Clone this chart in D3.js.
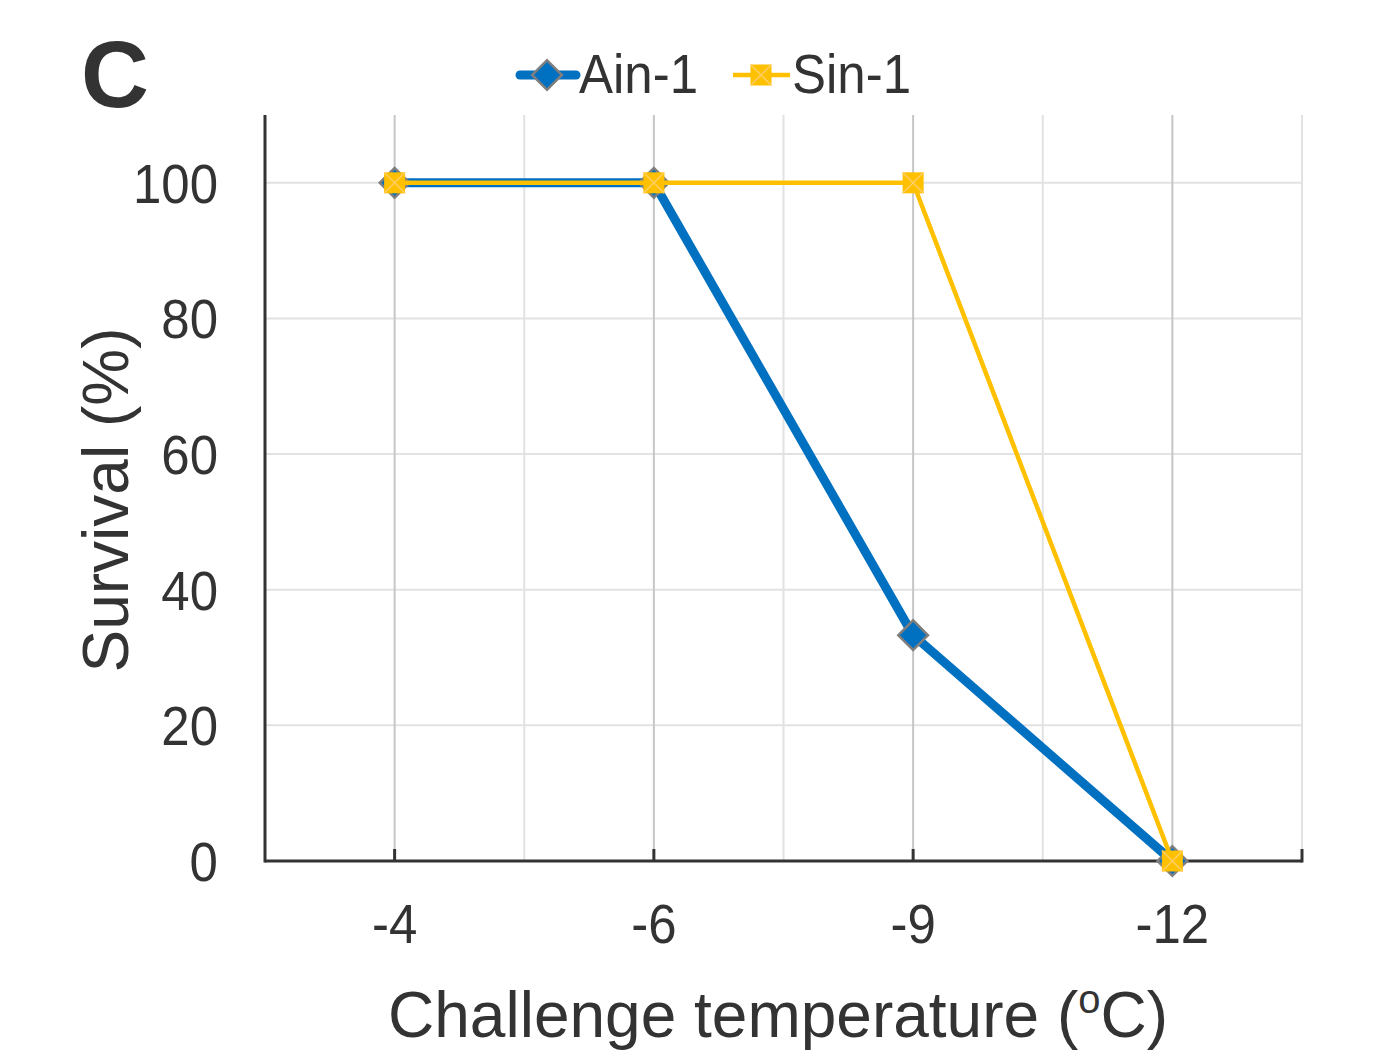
<!DOCTYPE html>
<html>
<head>
<meta charset="utf-8">
<script src="https://cdn.jsdelivr.net/npm/d3@7"></script>
<style>
  body { margin: 0; background: #fff; }
  text { font-family: "Liberation Sans", Arial, sans-serif; fill: #333; }
</style>
</head>
<body>
<script>
var categories = ["-4", "-6", "-9", "-12"];
var ain1 = [100, 100, 33.3, 0];
var sin1 = [100, 100, 100, 0];
var yTicks = [0, 20, 40, 60, 80, 100];

var width   = 1382,
    height  = 1051,
    mLeft   = 265,
    mRight  = 1302,
    mTop    = 115,
    mBottom = 861;

const svg = d3.select("body")
    .append("svg")
    .attr("width", width)
    .attr("height", height);

var x = d3.scaleBand().domain(categories).range([mLeft, mRight]);
var y = d3.scaleLinear().domain([0, 110]).range([mBottom, mTop]);
var cx = d => x(d) + x.bandwidth() / 2;

// text is a bit taller than wide in the original
var stretch = (px, py) => "translate(" + px + "," + py + ") scale(1,1.1)";

// grid
var grid = svg.append("g");
grid.selectAll(".hg")
    .data(yTicks.slice(1))
    .join("line")
    .attr("x1", mLeft).attr("x2", mRight)
    .attr("y1", d => y(d)).attr("y2", d => y(d))
    .style("stroke", "#e2e2e2").style("stroke-width", 2);
grid.selectAll(".vb")
    .data(categories)
    .join("line")
    .attr("x1", d => x(d) + x.bandwidth()).attr("x2", d => x(d) + x.bandwidth())
    .attr("y1", mTop).attr("y2", mBottom)
    .style("stroke", "#e2e2e2").style("stroke-width", 2);
grid.selectAll(".vc")
    .data(categories)
    .join("line")
    .attr("x1", cx).attr("x2", cx)
    .attr("y1", mTop).attr("y2", mBottom)
    .style("stroke", "#c6c6c6").style("stroke-width", 2);

// axes
var axes = svg.append("g").style("stroke", "#333").style("stroke-width", 3);
axes.append("line")
    .attr("x1", mLeft).attr("x2", mLeft)
    .attr("y1", mTop).attr("y2", mBottom + 1.5);
axes.append("line")
    .attr("x1", mLeft).attr("x2", mRight)
    .attr("y1", mBottom).attr("y2", mBottom);
axes.selectAll(".xt")
    .data(categories)
    .join("line")
    .attr("x1", cx).attr("x2", cx)
    .attr("y1", mBottom).attr("y2", mBottom - 12);
axes.append("line")
    .attr("x1", mRight).attr("x2", mRight)
    .attr("y1", mBottom + 1.5).attr("y2", mBottom - 12);

// tick labels
svg.append("g").selectAll("text")
    .data(yTicks)
    .join("text")
    .attr("transform", d => stretch(218, y(d) + 20))
    .attr("text-anchor", "end")
    .style("font-size", "51px")
    .text(d => d);

svg.append("g").selectAll("text")
    .data(categories)
    .join("text")
    .attr("transform", d => stretch(cx(d), 943))
    .attr("text-anchor", "middle")
    .style("font-size", "51px")
    .text(d => d);

// axis titles
var xt = svg.append("text")
    .attr("x", 778)
    .attr("y", 1037)
    .attr("text-anchor", "middle")
    .style("font-size", "64px");
xt.append("tspan").text("Challenge temperature (");
xt.append("tspan").attr("dy", -24).style("font-size", "40px").text("o");
xt.append("tspan").attr("dy", 24).text("C)");

svg.append("text")
    .attr("transform", "translate(128,500) rotate(-90)")
    .attr("text-anchor", "middle")
    .style("font-size", "64px")
    .text("Survival (%)");

svg.append("text")
    .attr("x", 81)
    .attr("y", 107)
    .style("font-size", "94px")
    .style("font-weight", "bold")
    .text("C");

// series
var lineGen = d3.line().x((d, i) => cx(categories[i])).y(d => y(d));

svg.append("path")
    .datum(ain1)
    .attr("d", lineGen)
    .style("fill", "none")
    .style("stroke", "#0070c0")
    .style("stroke-width", 9)
    .style("stroke-linejoin", "round");

function diamond(g, px, py, s) {
    g.append("rect")
        .attr("x", -s / 2).attr("y", -s / 2)
        .attr("width", s).attr("height", s)
        .attr("transform", "translate(" + px + "," + py + ") rotate(45)")
        .style("fill", "#0070c0")
        .style("stroke", "#7f7f7f")
        .style("stroke-width", 2.5);
}

function square(g, px, py, s) {
    g.append("rect")
        .attr("x", px - s / 2).attr("y", py - s / 2)
        .attr("width", s).attr("height", s)
        .style("fill", "#ffc000");
    g.append("path")
        .attr("d", "M" + (px - s / 2) + "," + (py - s / 2) + "L" + (px + s / 2) + "," + (py + s / 2) +
                   "M" + (px + s / 2) + "," + (py - s / 2) + "L" + (px - s / 2) + "," + (py + s / 2))
        .style("stroke", "#ffcf66")
        .style("stroke-width", 1.5);
}

var ainMarks = svg.append("g");
ain1.forEach((v, i) => diamond(ainMarks, cx(categories[i]), y(v), 21));

svg.append("path")
    .datum(sin1)
    .attr("d", lineGen)
    .style("fill", "none")
    .style("stroke", "#ffc000")
    .style("stroke-width", 4.5)
    .style("stroke-linejoin", "round");

var sinMarks = svg.append("g");
sin1.forEach((v, i) => square(sinMarks, cx(categories[i]), y(v), 21));

// legend
var leg = svg.append("g");
leg.append("line")
    .attr("x1", 520).attr("x2", 576).attr("y1", 75).attr("y2", 75)
    .style("stroke", "#0070c0").style("stroke-width", 9).style("stroke-linecap", "round");
diamond(leg, 547, 75, 21);
leg.append("text")
    .attr("transform", stretch(579, 93))
    .style("font-size", "51px")
    .text("Ain-1");
leg.append("line")
    .attr("x1", 733).attr("x2", 790).attr("y1", 75).attr("y2", 75)
    .style("stroke", "#ffc000").style("stroke-width", 4.5);
square(leg, 761, 75, 21);
leg.append("text")
    .attr("transform", stretch(792, 93))
    .style("font-size", "51px")
    .text("Sin-1");
</script>
</body>
</html>
